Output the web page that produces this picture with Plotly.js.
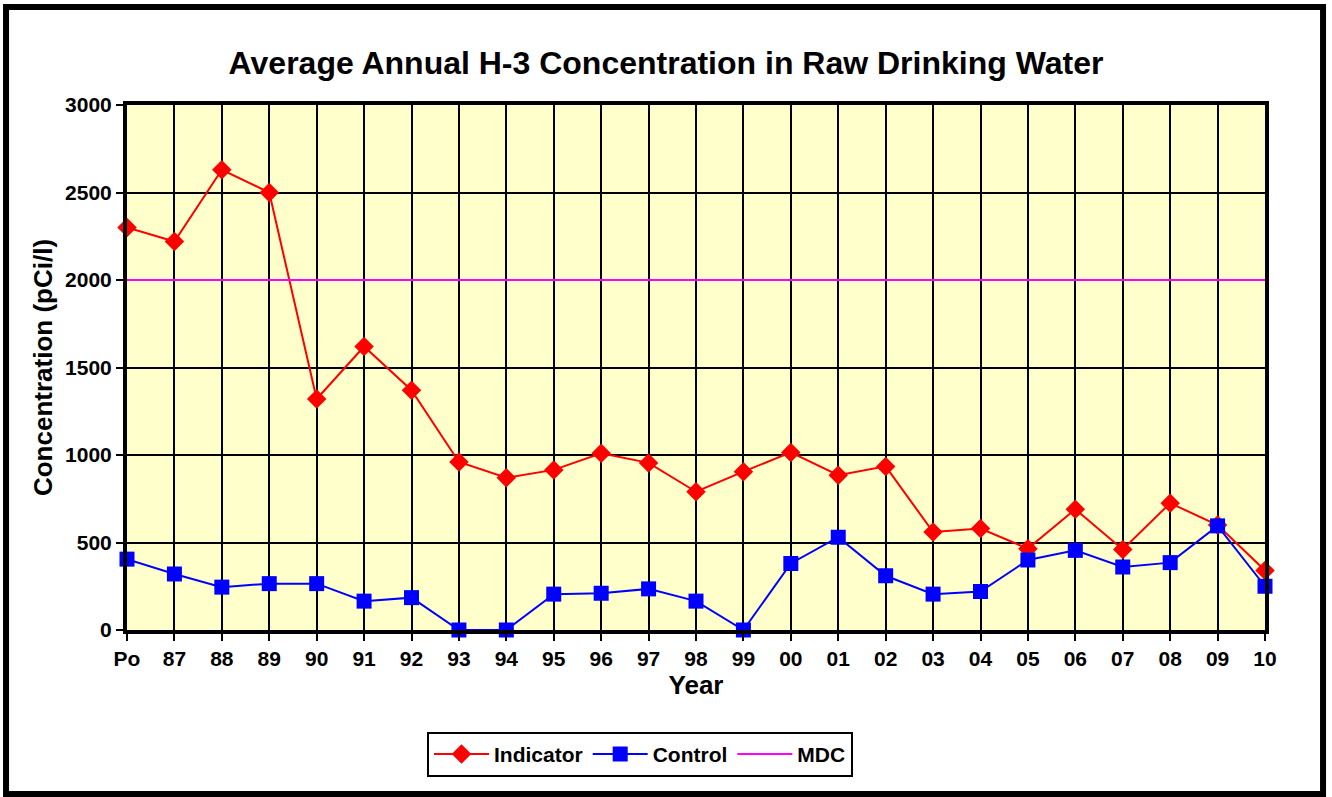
<!DOCTYPE html>
<html>
<head>
<meta charset="utf-8">
<script src="https://cdn.plot.ly/plotly-3.0.1.min.js"></script>
<style>html,body{margin:0;padding:0;background:#fff;}#chart{width:1332px;height:797px;}</style>
</head>
<body>
<div id="chart"></div>
<script>
const years = ["Po","87","88","89","90","91","92","93","94","95","96","97","98","99","00","01","02","03","04","05","06","07","08","09","10"];
const indicator = [2300,2220,2630,2500,1320,1620,1370,960,870,915,1010,955,790,905,1015,885,935,560,580,465,690,460,725,600,340];
const control = [405,320,245,265,265,165,185,0,0,205,210,235,165,0,380,530,310,205,220,400,455,360,385,595,250];
const mdc = years.map(() => 2000);
const yTicks = [0,500,1000,1500,2000,2500,3000];
const xIdx = years.map((_, i) => i);

const font = {family: 'Liberation Sans, Arial, sans-serif', color: '#000'};

const traces = [
  {x: xIdx, y: indicator, name: 'Indicator', type: 'scatter', mode: 'lines+markers',
   line: {color: '#ff0000', width: 2}, marker: {symbol: 'diamond', size: 15, color: '#ff0000'}, cliponaxis: false},
  {x: xIdx, y: control, name: 'Control', type: 'scatter', mode: 'lines+markers',
   line: {color: '#0000ff', width: 2}, marker: {symbol: 'square', size: 15, color: '#0000ff'}, cliponaxis: false},
  {x: xIdx, y: mdc, name: 'MDC', type: 'scatter', mode: 'lines',
   line: {color: '#ff00ff', width: 2}}
];

const layout = {
  width: 1332, height: 797,
  margin: {l: 127, r: 67, t: 105, b: 167},
  paper_bgcolor: '#ffffff',
  plot_bgcolor: '#ffffcc',
  showlegend: true,
  title: {text: '<b>Average Annual H-3 Concentration in Raw Drinking Water</b>',
          font: Object.assign({}, font, {size: 32}), x: 0.5, xanchor: 'center', y: 0.921, yanchor: 'middle'},
  xaxis: {
    range: [0, years.length - 1], tickvals: xIdx, ticktext: years.map(t => '<b>' + t + '</b>'),
    showgrid: true, gridcolor: '#000', gridwidth: 2,
    showline: true, linecolor: '#000', linewidth: 4, mirror: true,
    ticks: 'outside', ticklen: 7, tickwidth: 2, tickcolor: '#000',
    tickfont: Object.assign({}, font, {size: 21}), zeroline: false,
    title: {text: '<b>Year</b>', font: Object.assign({}, font, {size: 26}), standoff: 0}
  },
  yaxis: {
    range: [0, 3000], tickvals: yTicks,
    ticktext: yTicks.map(v => '<b>' + v + '</b>'),
    showgrid: true, gridcolor: '#000', gridwidth: 2,
    showline: true, linecolor: '#000', linewidth: 4, mirror: true,
    ticks: 'outside', ticklen: 7, tickwidth: 2, tickcolor: '#000',
    tickfont: Object.assign({}, font, {size: 21}), zeroline: false,
    title: {text: '<b>Concentration (pCi/l)</b>', font: Object.assign({}, font, {size: 26}), standoff: 6}
  },
  legend: {
    orientation: 'h', x: 0.4508, xanchor: 'center', y: -0.194, yanchor: 'top',
    bgcolor: '#ffffff', bordercolor: '#000', borderwidth: 2,
    font: Object.assign({}, font, {size: 21}), itemwidth: 55, traceorder: 'normal'
  },
  shapes: [
    {type: 'rect', xref: 'paper', yref: 'paper', x0: -0.1063, x1: 1.051, y0: -0.3124, y1: 1.1867,
     line: {color: '#000', width: 6}, fillcolor: 'rgba(0,0,0,0)', layer: 'above'}
  ]
};

layout.legend.font.weight = 'bold';

Plotly.newPlot('chart', traces, layout, {displayModeBar: false, staticPlot: true});
</script>
</body>
</html>
